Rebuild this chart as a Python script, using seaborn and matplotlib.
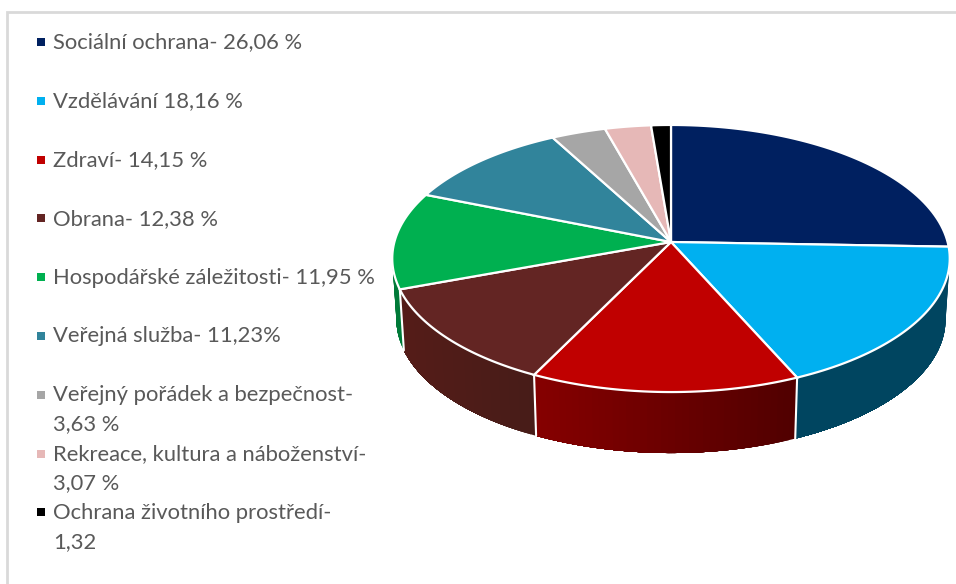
import matplotlib.pyplot as plt
import numpy as np
import pandas as pd
import seaborn as sns
from matplotlib.colors import to_rgb

labels = ['Sociální ochrana- 26,06 %', 'Vzdělávání 18,16 %', 'Zdraví- 14,15 %', 'Obrana- 12,38 %',
          'Hospodářské záležitosti- 11,95 %', 'Veřejná služba- 11,23%',
          'Veřejný pořádek a bezpečnost-\n3,63 %', 'Rekreace, kultura a náboženství-\n3,07 %',
          'Ochrana životního prostředí-\n1,32']
values = [26.06, 18.16, 14.15, 12.38, 11.95, 11.23, 3.63, 3.07, 1.32]
colors = ['#002060', '#00B0F0', '#C00000', '#632523', '#00B050', '#31849B', '#A6A6A6', '#E6B8B7', '#000000']
# side wall shade, left end and right end of each slice
wall_left = ['#00344a', '#004560', '#860000', '#551c18', '#007a38', '#1f5566', '#666666', '#998080', '#000000']
wall_right = ['#00344a', '#004560', '#500000', '#471c18', '#007a38', '#1f5566', '#666666', '#998080', '#000000']

sns.set_theme(style='white')
plt.rcParams['font.family'] = ['Lato', 'DejaVu Sans']

# pie geometry in image pixels
CX, CY = 671, 242
RX, RY, K = 276.6, 131.5, 0.1236
DEPTH = 61
BOTTOM_SCALE = 0.985


def project(theta):
    # theta clockwise from the top of the pie, simple perspective towards the viewer
    x = np.sin(theta)
    y = -np.cos(theta)
    s = 1 / (1 - K * y)
    return CX + RX * x * s, CY + RY * y * s


fig = plt.figure(figsize=(9.56, 5.84), dpi=100)
ax = fig.add_axes([0, 0, 1, 1])
ax.set_xlim(0, 956)
ax.set_ylim(584, 0)
ax.axis('off')

# chart frame, only top and left survive the crop
ax.plot([956, 7, 7], [12, 12, 584], color='#D9D9D9', lw=2, solid_joinstyle='miter')

edges = np.radians(np.cumsum([0] + values) / sum(values) * 360)

# side walls, each band runs to the slice end and the next one paints over it so no seams show
for i in range(len(values)):
    start = max(edges[i], np.radians(90))
    end = min(edges[i + 1], np.radians(282))
    if end <= start:
        continue
    c0, c1 = np.array(to_rgb(wall_left[i])), np.array(to_rgb(wall_right[i]))
    steps = np.linspace(start, end, 40)
    xs, ys = project(steps)
    lo, hi = xs.min(), xs.max()
    for j in range(len(steps) - 1):
        t = (xs[j:j + 2].mean() - lo) / max(hi - lo, 1)
        col = c0 + (c1 - c0) * t
        bx = CX + (xs[j:] - CX) * BOTTOM_SCALE
        by = ys[j:] + DEPTH
        ax.fill(np.r_[xs[j:], bx[::-1]], np.r_[ys[j:], by[::-1]], facecolor=col, edgecolor='none')

# white seams between the walls
for e in edges[2:5]:
    x, y = project(e)
    ax.plot([x, CX + (x - CX) * BOTTOM_SCALE], [y, y + DEPTH], color='white', lw=1.5)

# top face
for i in range(len(values)):
    steps = np.linspace(edges[i], edges[i + 1], 60)
    xs, ys = project(steps)
    ax.fill(np.r_[CX, xs], np.r_[CY, ys], facecolor=colors[i], edgecolor='white', lw=1.6, joinstyle='miter')

# legend
row_y = 42 + 58.8 * np.arange(len(labels))
legend_df = pd.DataFrame({'x': 41, 'y': row_y, 'name': labels})
sns.scatterplot(data=legend_df, x='x', y='y', hue='name', palette=colors, marker='s', s=33,
                linewidth=0, legend=False, ax=ax)
ax.set_xlim(0, 956)
ax.set_ylim(584, 0)
ax.axis('off')
for label, y in zip(labels, row_y):
    for k, line in enumerate(label.split('\n')):
        ax.text(53, y + 6.5 + 29 * k, line, color='#595959', fontsize=15.8, va='baseline', ha='left')

fig.savefig('out.png', dpi=100)
